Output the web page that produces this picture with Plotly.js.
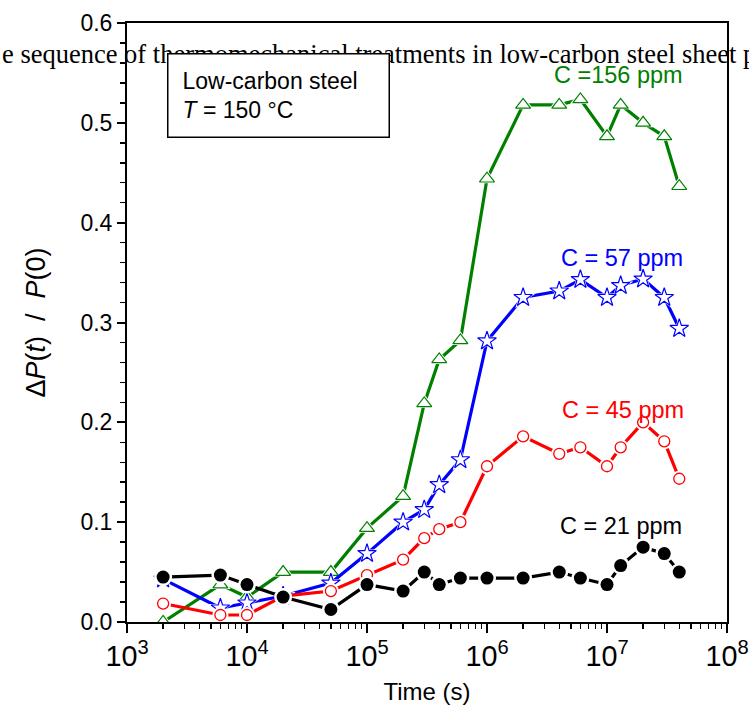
<!DOCTYPE html>
<html>
<head>
<meta charset="utf-8">
<script src="https://cdn.plot.ly/plotly-3.0.1.min.js"></script>
<style>html,body{margin:0;padding:0;background:#fff;}#chart{width:749px;height:716px;}</style>
</head>
<body>
<div id="chart"></div>
<script>
// Time (s)
const times = [2e3, 6e3, 1e4, 2e4, 5e4, 1e5, 2e5, 3e5, 4e5, 6e5, 1e6, 2e6, 4e6, 6e6, 1e7, 1.3e7, 2e7, 3e7, 4e7];
// ΔP(t)/P(0) for each carbon content
const c21  = [0.045, 0.047, 0.0375, 0.025, 0.0125, 0.0375, 0.031, 0.05, 0.0375, 0.044, 0.044, 0.044, 0.05, 0.044, 0.0375, 0.0565, 0.075, 0.0685, 0.05];
const c45  = [0.0185, 0.007, 0.007, 0.026, 0.031, 0.047, 0.0625, 0.084, 0.093, 0.1, 0.156, 0.186, 0.1685, 0.175, 0.156, 0.175, 0.2, 0.181, 0.1435];
const c57  = [0.043, 0.014, 0.019, 0.026, 0.039, 0.0685, 0.1, 0.1125, 0.1375, 0.1625, 0.2815, 0.325, 0.3315, 0.343, 0.325, 0.337, 0.3435, 0.325, 0.294];
const c156 = [0.0, 0.0375, 0.025, 0.05, 0.05, 0.094, 0.126, 0.219, 0.263, 0.282, 0.444, 0.518, 0.518, 0.5235, 0.4865, 0.518, 0.50, 0.4865, 0.4365];
const seriesLabels = ['C =156 ppm', 'C = 57 ppm', 'C = 45 ppm', 'C = 21 ppm'];
const labelX = [7.094, 7.128, 7.13, 7.12];
const labelY = [0.5475, 0.3645, 0.2125, 0.0965];

const series = [
  {y: c156, color: '#008000', symbol: 'triangle-up', size: 13, fill: '#ffffff', lw: 1.2},
  {y: c57,  color: '#0000ff', symbol: 'star', size: 14, fill: '#ffffff', lw: 1.2},
  {y: c45,  color: '#ff0000', symbol: 'circle', size: 11, fill: '#ffffff', lw: 1.3},
  {y: c21,  color: '#000000', symbol: 'circle', size: 13, fill: '#000000', lw: 0}
];

const traces = [];
series.forEach(s => {
  traces.push({x: times, y: s.y, type: 'scatter', mode: 'lines',
    line: {color: s.color, width: 3.2}, hoverinfo: 'skip'});
  traces.push({x: times, y: s.y, type: 'scatter', mode: 'markers',
    marker: {symbol: s.symbol, size: s.size + 5, color: '#ffffff', line: {width: 0}}, hoverinfo: 'skip'});
  traces.push({x: times, y: s.y, type: 'scatter', mode: 'markers',
    marker: {symbol: s.symbol, size: s.size, color: s.fill, line: {color: s.color, width: s.lw}}});
});

const font = 'Liberation Sans, Arial, sans-serif';
const annotations = [
  {xref: 'paper', yref: 'paper', x: -127/600, y: 0.948, xanchor: 'left', yanchor: 'middle',
   text: 'e sequence of thermomechanical treatments in low-carbon steel sheet production',
   showarrow: false, font: {family: 'Liberation Serif, Times New Roman, serif', size: 26.5, color: '#000'}},
  {xref: 'paper', yref: 'paper', x: 40/600, y: (622-53)/599, xanchor: 'left', yanchor: 'top',
   text: 'Low-carbon steel<br><i>T</i> = 150 °C', align: 'left', showarrow: false,
   bgcolor: '#ffffff', bordercolor: '#000', borderwidth: 1.5, borderpad: 14,
   width: 192, height: 54, font: {family: font, size: 23, color: '#000'}}
];
seriesLabels.forEach((t, i) => {
  annotations.push({xref: 'x', yref: 'y', x: labelX[i], y: labelY[i], text: t, showarrow: false,
    xanchor: 'center', yanchor: 'middle', font: {family: font, size: 23.5, color: series[i].color}});
});

const layout = {
  width: 749, height: 716,
  margin: {l: 127, r: 22, t: 23, b: 94},
  paper_bgcolor: '#fff', plot_bgcolor: '#fff',
  showlegend: false,
  font: {family: font, size: 23, color: '#000'},
  xaxis: {
    type: 'log', range: [3, 8], dtick: 1, exponentformat: 'power',
    showgrid: false, zeroline: false,
    showline: true, linecolor: '#000', linewidth: 2, mirror: true,
    ticks: 'outside', ticklen: 9, tickwidth: 2, tickcolor: '#000',
    minor: {ticks: 'outside', ticklen: 5, tickwidth: 1.5, tickcolor: '#000', dtick: 'D1', showgrid: false},
    tickfont: {family: font, size: 23},
    title: {text: 'Time (s)', font: {family: font, size: 24}, standoff: 12}
  },
  yaxis: {
    range: [0, 0.6], dtick: 0.1, tickformat: '.1f',
    showgrid: false, zeroline: false,
    showline: true, linecolor: '#000', linewidth: 2, mirror: true,
    ticks: 'outside', ticklen: 8, tickwidth: 2, tickcolor: '#000',
    minor: {ticks: 'outside', ticklen: 5, tickwidth: 1.5, tickcolor: '#000', dtick: 0.02, showgrid: false},
    tickfont: {family: font, size: 23},
    title: {text: 'Δ<i>P</i>(<i>t</i>)\u00a0 / \u00a0<i>P</i>(0)', font: {family: font, size: 27}, standoff: 27}
  },
  annotations: annotations
};

Plotly.newPlot('chart', traces, layout, {displayModeBar: false, staticPlot: true});
</script>
</body>
</html>
